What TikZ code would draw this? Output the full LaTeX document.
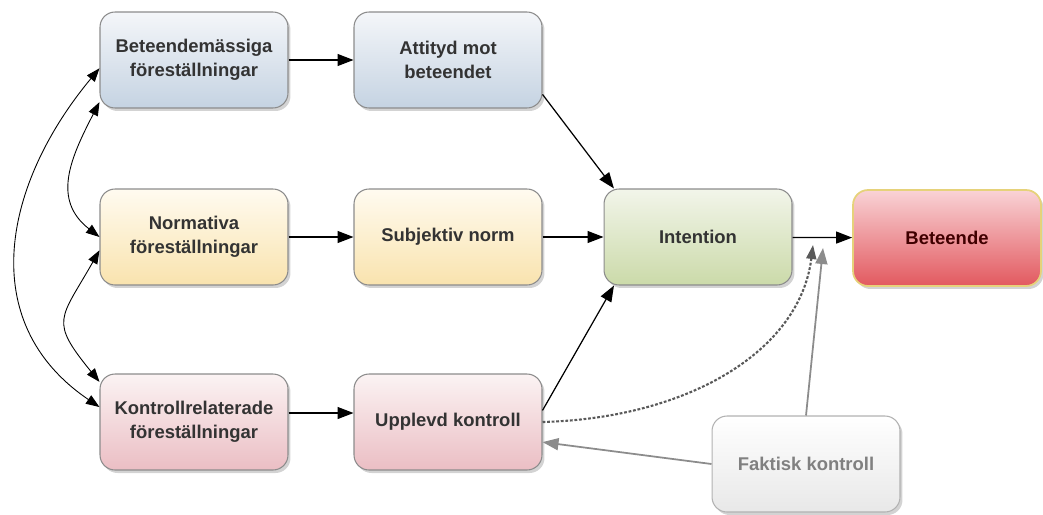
\documentclass[tikz,border=0pt]{standalone}
\usepackage{fontspec}
\setmainfont{Liberation Sans}
\usetikzlibrary{arrows.meta,shadows}

\definecolor{blueTop}{HTML}{F4F6F9}
\definecolor{blueBot}{HTML}{C5D3E2}
\definecolor{yelTop}{HTML}{FFFBF0}
\definecolor{yelBot}{HTML}{F9E3AE}
\definecolor{grnTop}{HTML}{F2F5EA}
\definecolor{grnBot}{HTML}{CBDAA9}
\definecolor{redTop}{HTML}{F9D3D6}
\definecolor{redBot}{HTML}{E2595F}
\definecolor{pnkTop}{HTML}{FBF3F3}
\definecolor{pnkBot}{HTML}{EBBEC4}
\definecolor{gryTop}{HTML}{FFFFFF}
\definecolor{gryBot}{HTML}{E8E8E8}
\definecolor{betBorder}{HTML}{E6D27A}

\begin{document}
\begin{tikzpicture}[
  x=0.02cm, y=-0.02cm,
  box/.style={rectangle, rounded corners=0.3cm, draw=black!45, line width=0.6pt,
    minimum width=3.76cm, minimum height=1.92cm, align=center,
    font=\bfseries\fontsize{10.5}{13.5}\selectfont, text=black!80,
    drop shadow={shadow xshift=0.05cm, shadow yshift=-0.06cm, opacity=0.35}},
  beliefbox/.style={box, top color=blueTop, bottom color=blueBot},
  normbox/.style={box, top color=yelTop, bottom color=yelBot},
  intbox/.style={box, top color=grnTop, bottom color=grnBot},
  behbox/.style={box, top color=redTop, bottom color=redBot, draw=betBorder, line width=1pt, text=black!75!red},
  ctrlbox/.style={box, top color=pnkTop, bottom color=pnkBot},
  factbox/.style={box, top color=gryTop, bottom color=gryBot, draw=black!30, text=black!50},
  arr/.style={-{Triangle[length=0.32cm, width=0.24cm]}, line width=0.7pt},
  dbl/.style={{Triangle[length=0.27cm, width=0.2cm]}-{Triangle[length=0.27cm, width=0.2cm]}, line width=0.5pt},
  dotarr/.style={-{Triangle[length=0.28cm, width=0.2cm]}, dash pattern=on 1.6pt off 1pt, line width=1.2pt, black!65},
  greyarr/.style={-{Triangle[length=0.32cm, width=0.24cm]}, line width=1pt, black!45}
]
\useasboundingbox (0,0) rectangle (1043,514);

% boxes
\node[beliefbox] (bel) at (194,60) {Beteendemässiga\\föreställningar};
\node[beliefbox] (att) at (448,60) {Attityd mot\\beteendet};
\node[normbox] (norm) at (194,237) {Normativa\\föreställningar};
\node[normbox] (subj) at (448,237) {Subjektiv norm};
\node[intbox] (int) at (698,237) {Intention};
\node[behbox] (beh) at (947,238) {Beteende};
\node[ctrlbox] (ctrl) at (194,422) {Kontrollrelaterade\\föreställningar};
\node[ctrlbox] (perc) at (448,422) {Upplevd kontroll};
\node[factbox] (fact) at (806,464) {Faktisk kontroll};

% junction points on the intention arrow
\coordinate (dj) at (813,245);
\coordinate (gj) at (823,248);

% main arrows
\draw[arr] (bel) -- (att);
\draw[arr] (norm) -- (subj);
\draw[arr] ([yshift=0.18cm]ctrl.east) -- ([yshift=0.18cm]perc.west);
\draw[arr] (att.-20) -- (int.150);
\draw[arr] (subj) -- (int);
\draw[arr] (perc.7) -- (int.210);
\draw[arr] (int) -- (beh);

% control paths
\draw[dotarr] (perc.east) .. controls (690,418) and (800,350) .. (dj);
\draw[greyarr] (fact.north) -- (gj);
\draw[greyarr] (fact.west) -- (perc.-12);

% correlations between beliefs
\draw[dbl] (bel.204) .. controls (70,159) and (52,200) .. (norm.west);
\draw[dbl] (norm.188) .. controls (60,320) and (49,320) .. (ctrl.157);
\draw[dbl] (bel.185) .. controls (4,183) and (-26,322) .. (ctrl.171);
\end{tikzpicture}
\end{document}
